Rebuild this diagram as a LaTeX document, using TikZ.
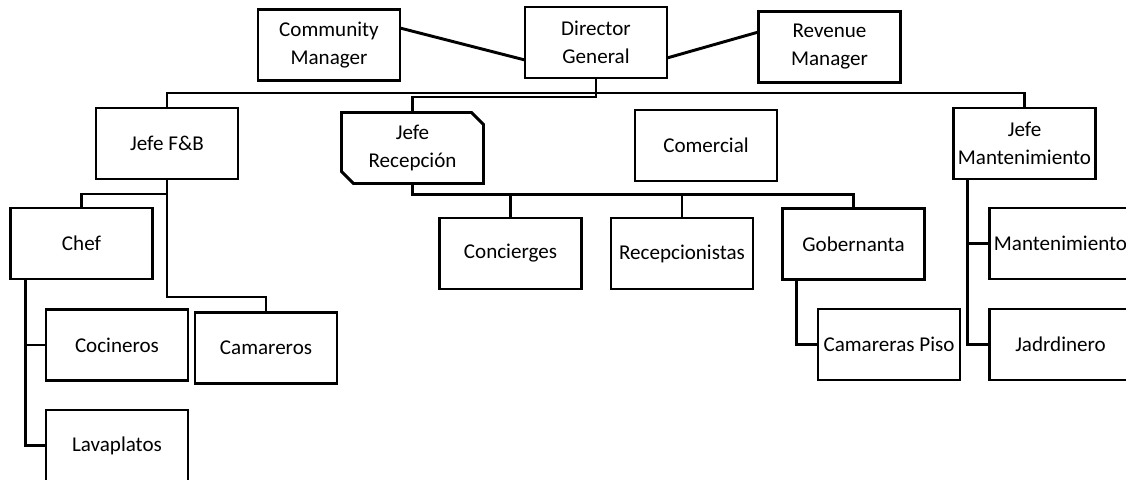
\documentclass[tikz,border=0pt]{standalone}
\usepackage{fontspec}
\setmainfont{Carlito}
\usetikzlibrary{calc}
\tikzset{
  puesto/.style={draw, line width=2.2pt, minimum width=106.5pt, minimum height=53.25pt,
    outer sep=0pt, inner sep=1pt, align=center, font=\fontsize{15.8}{21}\selectfont},
  enlace/.style={line width=2.2pt}
}
\begin{document}
\begin{tikzpicture}[x=0.75pt,y=-0.75pt]
  \useasboundingbox (0,0) rectangle (1126,479);
  % direccion
  \node[puesto] (cm) at (329,45) {Community\\Manager};
  \node[puesto] (dg) at (596,42.5) {Director\\General};
  \node[puesto] (rm) at (829.5,47) {Revenue\\Manager};
  % jefes
  \node[puesto] (fb) at (167,143.5) {Jefe F\&B};
  \node[puesto,draw=none] (jr) at (412.5,148) {Jefe\\Recepción};
  \draw[enlace] (jr.north west) -- ($(jr.north east)+(-12,0)$) -- ($(jr.north east)+(0,12)$)
    -- (jr.south east) -- ($(jr.south west)+(12,0)$) -- ($(jr.south west)+(0,-12)$) -- cycle;
  \node[puesto] (com) at (706,145.5) {Comercial};
  \node[puesto] (jm) at (1024.5,143.5) {Jefe\\Mantenimiento};
  % personal
  \node[puesto] (chef) at (81.5,243.5) {Chef};
  \node[puesto] (coc) at (117,345) {Cocineros};
  \node[puesto] (lav) at (117,445.5) {Lavaplatos};
  \node[puesto] (cam) at (266,348) {Camareros};
  \node[puesto] (conc) at (510.5,253.5) {Concierges};
  \node[puesto] (rec) at (682,253.5) {Recepcionistas};
  \node[puesto] (gob) at (853.5,244) {Gobernanta};
  \node[puesto] (cp) at (889,344.5) {Camareras Piso};
  \node[puesto] (mant) at (1060.5,243.5) {Mantenimiento};
  \node[puesto] (jar) at (1060.5,344.5) {Jadrdinero};
  % enlaces
  \draw[enlace] ($(cm.east)+(0,-17)$) -- ($(dg.west)+(0,17.5)$);
  \draw[enlace] ($(dg.east)+(0,15.5)$) -- ($(rm.west)+(0,-15)$);
  \coordinate (bus) at ($(dg.south)+(0,15)$);
  \draw[enlace] (fb.north) |- (bus) -| (jm.north);
  \draw[enlace] (dg.south) -- ++(0,19) -| (jr.north);
  \draw[enlace] (fb.south) -- ++(0,15) -| (chef.north);
  \draw[enlace] (fb.south) -- ++(0,118) -| (cam.north);
  \draw[enlace] ($(chef.south west)+(15,0)$) |- (coc.west);
  \draw[enlace] ($(chef.south west)+(15,0)$) |- (lav.west);
  \draw[enlace] (jr.south) -- ++(0,11) -| (conc.north);
  \draw[enlace] (jr.south) -- ++(0,11) -| (rec.north);
  \draw[enlace] (jr.south) -- ++(0,11) -| (gob.north);
  \draw[enlace] ($(gob.south west)+(14,0)$) |- (cp.west);
  \draw[enlace] ($(jm.south west)+(14,0)$) |- (mant.west);
  \draw[enlace] ($(jm.south west)+(14,0)$) |- (jar.west);
\end{tikzpicture}
\end{document}
